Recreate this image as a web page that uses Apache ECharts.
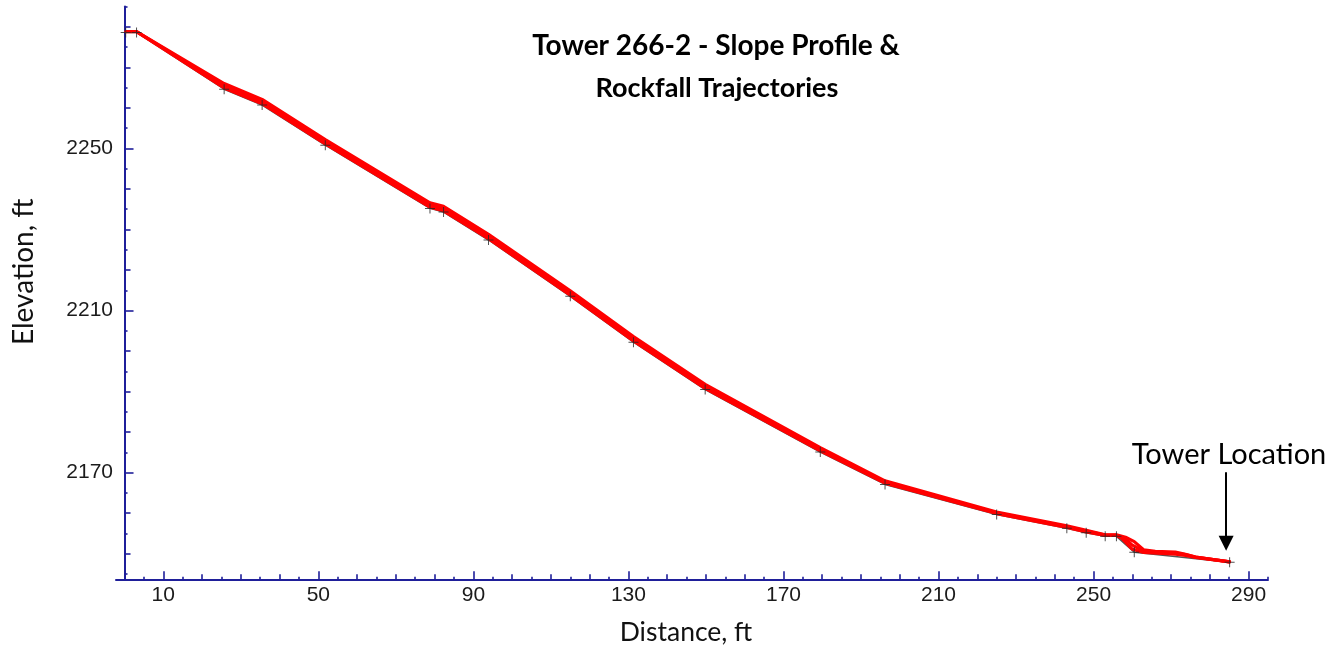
<!DOCTYPE html>
<html>
<head>
<meta charset="utf-8">
<title>Tower 266-2 - Slope Profile & Rockfall Trajectories</title>
<script src="https://cdn.jsdelivr.net/npm/echarts@6/dist/echarts.min.js"></script>
<style>
  html, body { margin: 0; padding: 0; background: #ffffff; }
  #chart { width: 1333px; height: 648px; }
</style>
</head>
<body>
<div id="chart"></div>
<script>
// Surveyed slope profile vertices (distance ft, elevation ft)
const profileDistance  = [0.3, 3.1, 25.7, 35.5, 51.8, 78.8, 82.3, 93.9, 115.0, 131.3, 149.8, 179.5, 196.2, 225.0, 243.1, 248.1, 253.0, 255.9, 260.5, 285.1];
const profileElevation = [2278.6, 2278.6, 2264.6, 2260.7, 2250.8, 2235.2, 2234.3, 2227.4, 2213.5, 2202.2, 2190.5, 2175.1, 2167.1, 2159.7, 2156.3, 2155.2, 2154.3, 2154.3, 2150.4, 2147.9];

// Simulated rockfall trajectories [distance, elevation]
const trajectory1 = [[0.3, 2278.8], [3.1, 2278.8], [25.7, 2264.9], [35.5, 2261.0], [51.8, 2251.1], [78.8, 2235.5], [82.3, 2234.6], [93.9, 2227.7], [115.0, 2213.8], [131.3, 2202.5], [149.8, 2190.8], [179.5, 2175.4], [196.2, 2167.4], [225.0, 2159.9], [243.1, 2156.5], [248.1, 2155.4], [253.0, 2154.5], [255.9, 2154.5], [257.3, 2153.8], [259.9, 2151.2], [262.9, 2150.3], [271.1, 2149.9], [273.7, 2149.6], [276.3, 2149.1], [285.1, 2148.0]];
const trajectory2 = [[3.1, 2278.8], [25.7, 2265.5], [35.5, 2261.6], [51.8, 2251.7], [78.8, 2236.1], [82.3, 2235.2], [93.9, 2228.3], [115.0, 2214.4], [131.3, 2203.1], [149.8, 2191.3], [179.5, 2175.8], [196.2, 2167.7], [225.0, 2160.1], [243.1, 2156.7], [248.1, 2155.6], [253.0, 2154.6], [255.9, 2154.6], [258.0, 2153.9], [259.9, 2152.2], [262.9, 2150.65], [271.1, 2150.2], [273.7, 2149.8], [276.3, 2149.2], [285.1, 2148.0]];
const trajectory3 = [[3.1, 2278.8], [25.7, 2266.0], [35.5, 2262.1], [51.8, 2252.2], [78.8, 2236.6], [82.3, 2235.7], [93.9, 2228.8], [115.0, 2214.9], [131.3, 2203.6], [149.8, 2191.8], [179.5, 2176.2], [196.2, 2168.0], [225.0, 2160.3], [243.1, 2156.9], [248.1, 2155.8], [253.0, 2154.7], [255.9, 2154.7], [258.5, 2154.0], [260.5, 2153.0], [262.9, 2151.0], [265.9, 2150.6], [271.1, 2150.4], [273.7, 2149.9], [276.3, 2149.2], [285.1, 2148.0]];

// Axis tick labels
const distanceLabels  = [10, 50, 90, 130, 170, 210, 250, 290];
const elevationLabels = [2170, 2210, 2250];

// Tower marker: distance, arrow start and arrow tip elevations
const towerDistance = 284.2;
const towerArrowTop = 2170.1;
const towerArrowTip = 2152.6;

const X_MIN = -2.2, X_MAX = 295;
const Y_MIN = 2143.7, Y_MAX = 2285;
const AXIS_COLOR = '#1f1f9a';
const LABEL_FONT = '"Liberation Sans", Arial, sans-serif';
const TITLE_FONT = 'Lato, "Open Sans", sans-serif';

// Secondary tick sets: every 10 (medium) and the odd fives (small)
const xMidTicks = [], xSmallTicks = [], yMidTicks = [], ySmallTicks = [];
for (let v = 0; v <= X_MAX; v += 10) if (!distanceLabels.includes(v)) xMidTicks.push(v);
for (let v = 5; v <= X_MAX; v += 10) xSmallTicks.push(v);
for (let v = 2150; v <= Y_MAX; v += 10) if (!elevationLabels.includes(v)) yMidTicks.push(v);
for (let v = 2145; v <= Y_MAX; v += 10) ySmallTicks.push(v);

const profilePoints = profileDistance.map((d, i) => [d, profileElevation[i]]);

function tickAxis(kind, values, length, extra) {
  const isX = kind === 'x';
  return Object.assign({
    type: 'value',
    min: isX ? X_MIN : Y_MIN,
    max: isX ? X_MAX : Y_MAX,
    position: isX ? 'bottom' : 'left',
    axisLine: { show: false },
    axisTick: { show: true, inside: true, length: length, customValues: values,
                lineStyle: { color: AXIS_COLOR, width: 1.6 } },
    axisLabel: { show: false },
    splitLine: { show: false }
  }, extra || {});
}

const trajectoryStyle = { color: '#ff0000', width: 3.1, join: 'round', cap: 'round' };

const chart = echarts.init(document.getElementById('chart'), null, { renderer: 'canvas' });

chart.setOption({
  animation: false,
  backgroundColor: '#ffffff',
  grid: { left: 116, right: 65, top: 6.5, bottom: 68.7, containLabel: false, outerBoundsMode: 'none' },
  xAxis: [
    tickAxis('x', distanceLabels, 8, {
      axisLine: { show: true, lineStyle: { color: AXIS_COLOR, width: 2 } },
      axisLabel: { show: true, customValues: distanceLabels, margin: 5, formatter: v => String(v),
                   color: '#1b1b1b', fontFamily: LABEL_FONT, fontSize: 21 },
      name: 'Distance, ft', nameLocation: 'middle', nameGap: 40, nameMoveOverlap: false,
      nameTextStyle: { fontFamily: TITLE_FONT, fontSize: 26.5, color: '#111', padding: [0, 12, 0, 0] }
    }),
    tickAxis('x', xMidTicks, 5),
    tickAxis('x', xSmallTicks, 2.5)
  ],
  yAxis: [
    tickAxis('y', elevationLabels, 9, {
      axisLine: { show: true, lineStyle: { color: AXIS_COLOR, width: 2 } },
      axisLabel: { show: true, customValues: elevationLabels, margin: 3, formatter: v => String(v),
                   color: '#1b1b1b', fontFamily: LABEL_FONT, fontSize: 21 },
      name: 'Elevation, ft', nameLocation: 'middle', nameGap: 78, nameRotate: 90, nameMoveOverlap: false,
      nameTextStyle: { fontFamily: TITLE_FONT, fontSize: 28, color: '#111', padding: [0, 0, 0, 42] }
    }),
    tickAxis('y', yMidTicks, 6),
    tickAxis('y', ySmallTicks, 3)
  ],
  series: [
    {
      name: 'Slope profile',
      type: 'line',
      data: profilePoints,
      showSymbol: false,
      lineStyle: { color: '#555', width: 1.5 },
      z: 1,
      markLine: {
        silent: true,
        symbol: ['none', 'triangle'],
        symbolSize: [15, 15],
        lineStyle: { color: '#000', width: 2, type: 'solid' },
        label: { show: false },
        data: [[{ coord: [towerDistance, towerArrowTop] }, { coord: [towerDistance, towerArrowTip] }]]
      }
    },
    { name: 'Trajectory 1', type: 'line', data: trajectory1, showSymbol: false, lineStyle: trajectoryStyle, z: 2 },
    { name: 'Trajectory 2', type: 'line', data: trajectory2, showSymbol: false, lineStyle: trajectoryStyle, z: 2 },
    { name: 'Trajectory 3', type: 'line', data: trajectory3, showSymbol: false, lineStyle: trajectoryStyle, z: 2 },
    {
      name: 'Profile vertices',
      type: 'scatter',
      data: profilePoints,
      symbol: 'path://M0,4.5H10V5.5H0Z M4.5,0H5.5V10H4.5Z',
      symbolSize: 10,
      itemStyle: { color: '#262626' },
      z: 3
    }
  ],
  graphic: [
    { type: 'text', x: 716, y: 46, z: 10,
      style: { text: 'Tower 266-2 - Slope Profile &', fill: '#000', font: 'bold 28px ' + TITLE_FONT,
               textAlign: 'center', textVerticalAlign: 'middle' } },
    { type: 'text', x: 717, y: 88, z: 10,
      style: { text: 'Rockfall Trajectories', fill: '#000', font: 'bold 27px ' + TITLE_FONT,
               textAlign: 'center', textVerticalAlign: 'middle' } },
    { type: 'text', x: 1229, y: 455, z: 10,
      style: { text: 'Tower Location', fill: '#000', font: '29px ' + TITLE_FONT,
               textAlign: 'center', textVerticalAlign: 'middle' } }
  ]
});
</script>
</body>
</html>
